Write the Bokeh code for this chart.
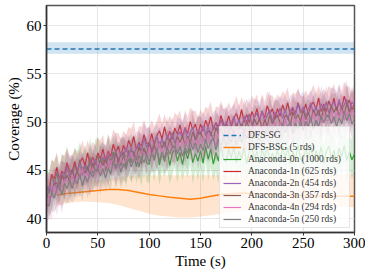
from bokeh.plotting import figure
from bokeh.models import Range1d, Legend, LegendItem, FixedTicker
from bokeh.embed import file_html
from bokeh.resources import INLINE

# ---------------- data ----------------
x_ticks = [0, 50, 100, 150, 200, 250, 300]
y_ticks = [40, 45, 50, 55, 60]

# Anaconda runs sampled every 2.5 s
t_ana = [i * 2.5 for i in range(121)]

sg_t = [0, 300]
sg_mean = [57.6, 57.6]
sg_lo = [57.1, 57.1]
sg_hi = [58.3, 58.3]

bsg_t = [10, 20, 30, 40, 50, 60, 70, 80, 90, 100, 110, 120, 130, 140, 150,
         160, 170, 180, 190, 200, 210, 220, 230, 240, 250, 260, 270, 280, 290, 300]
bsg_mean = [42.45, 42.6, 42.7, 42.8, 42.9, 43.0, 43.0, 42.9, 42.7, 42.5, 42.35, 42.2, 42.1, 42.0, 42.1,
            42.3, 42.5, 42.6, 42.65, 42.6, 42.55, 42.5, 42.45, 42.4, 42.4, 42.35, 42.3, 42.3, 42.3, 42.3]
bsg_lo = [41.3, 41.6, 41.75, 41.75, 41.7, 41.6, 41.4, 41.1, 40.8, 40.5, 40.3, 40.2, 40.1, 40.1, 40.2,
          40.35, 40.5, 40.65, 40.8, 40.9, 41.0, 41.05, 41.1, 41.1, 41.15, 41.2, 41.2, 41.2, 41.2, 41.2]
bsg_hi = [43.6, 43.7, 43.8, 43.9, 44.0, 44.1, 44.3, 44.4, 44.5, 44.5, 44.5, 44.5, 44.5, 44.5, 44.5,
          44.5, 44.5, 44.5, 44.55, 44.55, 44.55, 44.55, 44.6, 44.6, 44.6, 44.6, 44.6, 44.6, 44.6, 44.6]

a0_mean = [43.5, 42.6, 44.6, 43.5, 44.8, 43.4, 44.75, 44.0, 45.7, 44.3,
           44.2, 45.6, 44.8, 46.1, 44.5, 45.8, 45.0, 46.35, 44.7, 46.0,
           46.55, 45.3, 46.25, 45.0, 46.55, 45.7, 46.9, 45.35, 46.3, 45.5,
           46.65, 45.35, 47.1, 45.8, 46.9, 45.35, 46.55, 45.65, 47.3, 45.8,
           45.6, 46.9, 46.05, 47.25, 45.55, 46.8, 45.9, 47.2, 45.5, 46.75,
           47.25, 45.95, 46.85, 45.6, 47.1, 46.2, 47.4, 45.8, 46.75, 45.95,
           47.05, 45.75, 47.45, 46.15, 47.25, 45.65, 46.85, 45.95, 47.6, 46.1,
           45.9, 47.2, 46.3, 47.5, 45.8, 47.0, 46.1, 47.4, 45.7, 46.9,
           47.4, 46.1, 47.0, 45.7, 47.2, 46.3, 47.5, 45.9, 46.8, 46.0,
           47.15, 45.85, 47.55, 46.25, 47.35, 45.75, 46.95, 46.05, 47.65, 46.15,
           45.95, 47.25, 46.35, 47.55, 45.85, 47.05, 46.15, 47.45, 45.75, 46.95,
           47.5, 46.2, 47.1, 45.8, 47.3, 46.4, 47.6, 46.0, 46.9, 46.1,
           46.7]
a0_sd = [1.8, 2.1, 1.6, 2.2, 1.9, 1.7, 2.0, 2.3, 1.8, 1.9,
         2.0, 1.7, 2.2, 1.8, 2.1, 1.9, 1.6, 2.1, 1.9, 2.2,
         1.9, 2.2, 1.8, 1.6, 2.1, 2.0, 1.8, 2.2, 1.7, 2.0,
         1.8, 2.1, 1.6, 2.2, 1.9, 1.7, 2.0, 2.3, 1.8, 1.9,
         2.0, 1.7, 2.2, 1.8, 2.1, 1.9, 1.6, 2.1, 1.9, 2.2,
         1.9, 2.2, 1.8, 1.6, 2.1, 2.0, 1.8, 2.2, 1.7, 2.0,
         1.8, 2.1, 1.6, 2.2, 1.9, 1.7, 2.0, 2.3, 1.8, 1.9,
         2.0, 1.7, 2.2, 1.8, 2.1, 1.9, 1.6, 2.1, 1.9, 2.2,
         1.9, 2.2, 1.8, 1.6, 2.1, 2.0, 1.8, 2.2, 1.7, 2.0,
         1.8, 2.1, 1.6, 2.2, 1.9, 1.7, 2.0, 2.3, 1.8, 1.9,
         2.0, 1.7, 2.2, 1.8, 2.1, 1.9, 1.6, 2.1, 1.9, 2.2,
         1.9, 2.2, 1.8, 1.6, 2.1, 2.0, 1.8, 2.2, 1.7, 2.0,
         1.9]

a1_mean = [43.1, 43.0, 44.6, 44.1, 45.3, 44.1, 44.9, 44.6, 45.8, 44.9,
           44.9, 45.9, 44.8, 45.8, 46.3, 45.5, 46.8, 45.5, 46.4, 45.6,
           46.8, 46.2, 47.2, 46.0, 47.0, 46.4, 47.7, 46.9, 47.5, 46.5,
           47.6, 46.9, 48.1, 47.4, 48.5, 47.15, 47.9, 47.5, 48.7, 47.8,
           47.8, 48.8, 47.65, 48.6, 49.1, 48.25, 49.5, 48.2, 49.05, 48.2,
           49.4, 48.75, 49.7, 48.5, 49.45, 48.8, 50.05, 49.2, 49.8, 48.75,
           49.8, 49.05, 50.2, 49.5, 50.55, 49.2, 49.95, 49.5, 50.7, 49.75,
           49.7, 50.65, 49.5, 50.45, 50.9, 50.05, 51.3, 49.95, 50.8, 49.95,
           51.1, 50.45, 51.4, 50.15, 51.1, 50.45, 51.7, 50.85, 51.4, 50.35,
           51.4, 50.6, 51.8, 51.0, 52.0, 50.7, 51.4, 50.9, 52.0, 51.1,
           51.0, 51.9, 50.8, 51.7, 52.1, 51.3, 52.5, 51.1, 51.9, 51.1,
           52.2, 51.5, 52.5, 51.2, 52.1, 51.5, 52.7, 51.8, 52.3, 51.3,
           52.0]
a1_sd = [1.5, 1.8, 1.4, 1.9, 1.6, 1.3, 1.7, 2.0, 1.5, 1.6,
         1.7, 1.4, 1.9, 1.5, 1.8, 1.6, 1.3, 1.8, 1.6, 1.9,
         1.6, 1.9, 1.5, 1.3, 1.8, 1.7, 1.5, 1.9, 1.4, 1.7,
         1.5, 1.8, 1.4, 1.9, 1.6, 1.3, 1.7, 2.0, 1.5, 1.6,
         1.7, 1.4, 1.9, 1.5, 1.8, 1.6, 1.3, 1.8, 1.6, 1.9,
         1.6, 1.9, 1.5, 1.3, 1.8, 1.7, 1.5, 1.9, 1.4, 1.7,
         1.5, 1.8, 1.4, 1.9, 1.6, 1.3, 1.7, 2.0, 1.5, 1.6,
         1.7, 1.4, 1.9, 1.5, 1.8, 1.6, 1.3, 1.8, 1.6, 1.9,
         1.6, 1.9, 1.5, 1.3, 1.8, 1.7, 1.5, 1.9, 1.4, 1.7,
         1.5, 1.8, 1.4, 1.9, 1.6, 1.3, 1.7, 2.0, 1.5, 1.6,
         1.7, 1.4, 1.9, 1.5, 1.8, 1.6, 1.3, 1.8, 1.6, 1.9,
         1.6, 1.9, 1.5, 1.3, 1.8, 1.7, 1.5, 1.9, 1.4, 1.7,
         1.6]

a2_mean = [41.9, 43.4, 42.7, 43.9, 43.1, 44.2, 44.7, 43.95, 45.3, 44.4,
           45.1, 44.2, 45.0, 45.7, 44.6, 45.5, 44.5, 45.9, 45.3, 46.2,
           45.1, 46.0, 46.4, 45.7, 46.8, 45.7, 46.4, 47.0, 45.8, 46.9,
           46.4, 47.4, 46.4, 47.4, 46.4, 47.4, 47.8, 47.0, 48.3, 47.35,
           48.0, 47.1, 47.9, 48.55, 47.4, 48.3, 47.3, 48.65, 48.0, 48.9,
           47.8, 48.65, 49.0, 48.3, 49.35, 48.2, 48.9, 49.45, 48.2, 49.25,
           48.7, 49.65, 48.6, 49.6, 48.55, 49.5, 49.9, 49.05, 50.3, 49.4,
           50.1, 49.15, 49.9, 50.6, 49.45, 50.3, 49.25, 50.6, 50.0, 50.85,
           49.7, 50.55, 50.9, 50.15, 51.2, 50.05, 50.7, 51.25, 50.0, 51.05,
           50.5, 51.45, 50.4, 51.3, 50.25, 51.2, 51.55, 50.7, 51.9, 50.95,
           51.6, 50.6, 51.35, 52.0, 50.8, 51.65, 50.6, 51.9, 51.25, 52.1,
           50.9, 51.75, 52.1, 51.3, 52.35, 51.2, 51.8, 52.35, 51.1, 52.1,
           51.8]
a2_sd = [1.7, 1.4, 1.9, 1.5, 1.8, 1.6, 1.3, 1.8, 1.6, 1.9,
         1.6, 1.9, 1.5, 1.3, 1.8, 1.7, 1.5, 1.9, 1.4, 1.7,
         1.5, 1.8, 1.4, 1.9, 1.6, 1.3, 1.7, 2.0, 1.5, 1.6,
         1.7, 1.4, 1.9, 1.5, 1.8, 1.6, 1.3, 1.8, 1.6, 1.9,
         1.6, 1.9, 1.5, 1.3, 1.8, 1.7, 1.5, 1.9, 1.4, 1.7,
         1.5, 1.8, 1.4, 1.9, 1.6, 1.3, 1.7, 2.0, 1.5, 1.6,
         1.7, 1.4, 1.9, 1.5, 1.8, 1.6, 1.3, 1.8, 1.6, 1.9,
         1.6, 1.9, 1.5, 1.3, 1.8, 1.7, 1.5, 1.9, 1.4, 1.7,
         1.5, 1.8, 1.4, 1.9, 1.6, 1.3, 1.7, 2.0, 1.5, 1.6,
         1.7, 1.4, 1.9, 1.5, 1.8, 1.6, 1.3, 1.8, 1.6, 1.9,
         1.6, 1.9, 1.5, 1.3, 1.8, 1.7, 1.5, 1.9, 1.4, 1.7,
         1.5, 1.8, 1.4, 1.9, 1.6, 1.3, 1.7, 2.0, 1.5, 1.6,
         1.5]

a3_mean = [42.5, 42.2, 42.3, 43.6, 43.7, 43.0, 44.5, 43.85, 44.5, 43.8,
           45.1, 44.1, 44.9, 44.1, 45.3, 44.7, 45.4, 44.4, 45.8, 45.0,
           44.9, 46.1, 45.5, 46.2, 45.2, 46.2, 45.6, 46.8, 45.9, 46.5,
           46.9, 46.2, 45.95, 47.0, 46.9, 46.1, 47.45, 46.7, 47.3, 46.6,
           47.9, 46.85, 47.6, 46.8, 47.95, 47.3, 48.0, 46.95, 48.3, 47.5,
           47.35, 48.5, 47.9, 48.55, 47.5, 48.5, 47.85, 49.0, 48.1, 48.65,
           49.0, 48.25, 48.0, 49.1, 48.95, 48.1, 49.45, 48.7, 49.3, 48.55,
           49.8, 48.75, 49.5, 48.7, 49.85, 49.2, 49.85, 48.8, 50.15, 49.3,
           49.2, 50.35, 49.7, 50.35, 49.3, 50.25, 49.6, 50.75, 49.8, 50.35,
           50.7, 49.95, 49.7, 50.7, 50.55, 49.7, 51.05, 50.3, 50.8, 50.05,
           51.3, 50.25, 51.0, 50.15, 51.3, 50.6, 51.25, 50.2, 51.55, 50.7,
           50.5, 51.65, 51.0, 51.6, 50.55, 51.5, 50.8, 51.95, 51.0, 51.5,
           51.3]
a3_sd = [1.6, 1.9, 1.5, 1.3, 1.8, 1.7, 1.5, 1.9, 1.4, 1.7,
         1.5, 1.8, 1.4, 1.9, 1.6, 1.3, 1.7, 2.0, 1.5, 1.6,
         1.7, 1.4, 1.9, 1.5, 1.8, 1.6, 1.3, 1.8, 1.6, 1.9,
         1.6, 1.9, 1.5, 1.3, 1.8, 1.7, 1.5, 1.9, 1.4, 1.7,
         1.5, 1.8, 1.4, 1.9, 1.6, 1.3, 1.7, 2.0, 1.5, 1.6,
         1.7, 1.4, 1.9, 1.5, 1.8, 1.6, 1.3, 1.8, 1.6, 1.9,
         1.6, 1.9, 1.5, 1.3, 1.8, 1.7, 1.5, 1.9, 1.4, 1.7,
         1.5, 1.8, 1.4, 1.9, 1.6, 1.3, 1.7, 2.0, 1.5, 1.6,
         1.7, 1.4, 1.9, 1.5, 1.8, 1.6, 1.3, 1.8, 1.6, 1.9,
         1.6, 1.9, 1.5, 1.3, 1.8, 1.7, 1.5, 1.9, 1.4, 1.7,
         1.5, 1.8, 1.4, 1.9, 1.6, 1.3, 1.7, 2.0, 1.5, 1.6,
         1.7, 1.4, 1.9, 1.5, 1.8, 1.6, 1.3, 1.8, 1.6, 1.9,
         1.6]

a4_mean = [40.9, 42.4, 42.2, 43.4, 42.5, 43.5, 42.6, 44.05, 43.9, 43.45,
           44.6, 43.6, 44.5, 44.1, 45.2, 43.9, 44.8, 44.3, 45.3, 44.6,
           44.7, 45.8, 44.6, 45.7, 45.3, 46.1, 45.1, 46.0, 45.1, 46.35,
           45.3, 46.4, 45.9, 46.9, 45.8, 46.65, 45.6, 47.0, 46.8, 46.3,
           47.4, 46.35, 47.2, 46.8, 47.85, 46.5, 47.4, 46.85, 47.8, 47.1,
           47.15, 48.2, 47.0, 48.05, 47.6, 48.35, 47.3, 48.15, 47.2, 48.45,
           47.4, 48.45, 47.9, 48.85, 47.7, 48.55, 47.5, 48.85, 48.6, 48.05,
           49.1, 48.05, 48.9, 48.45, 49.5, 48.15, 49.0, 48.45, 49.4, 48.65,
           48.7, 49.75, 48.5, 49.55, 49.1, 49.85, 48.8, 49.65, 48.7, 49.95,
           48.9, 49.95, 49.4, 50.35, 49.2, 50.05, 49.0, 50.35, 50.1, 49.55,
           50.6, 49.55, 50.4, 49.95, 51.0, 49.65, 50.5, 49.95, 50.9, 50.15,
           50.2, 51.25, 50.0, 51.0, 50.55, 51.3, 50.2, 51.05, 50.1, 51.3,
           50.8]
a4_sd = [2.3, 2.0, 2.4, 1.9, 2.2, 2.0, 2.1, 1.8, 2.0, 1.9,
         1.5, 1.8, 1.4, 1.9, 1.6, 1.3, 1.7, 2.0, 1.5, 1.6,
         1.7, 1.4, 1.9, 1.5, 1.8, 1.6, 1.3, 1.8, 1.6, 1.9,
         1.6, 1.9, 1.5, 1.3, 1.8, 1.7, 1.5, 1.9, 1.4, 1.7,
         1.5, 1.8, 1.4, 1.9, 1.6, 1.3, 1.7, 2.0, 1.5, 1.6,
         1.7, 1.4, 1.9, 1.5, 1.8, 1.6, 1.3, 1.8, 1.6, 1.9,
         1.6, 1.9, 1.5, 1.3, 1.8, 1.7, 1.5, 1.9, 1.4, 1.7,
         1.5, 1.8, 1.4, 1.9, 1.6, 1.3, 1.7, 2.0, 1.5, 1.6,
         1.7, 1.4, 1.9, 1.5, 1.8, 1.6, 1.3, 1.8, 1.6, 1.9,
         1.6, 1.9, 1.5, 1.3, 1.8, 1.7, 1.5, 1.9, 1.4, 1.7,
         1.5, 1.8, 1.4, 1.9, 1.6, 1.3, 1.7, 2.0, 1.5, 1.6,
         1.7, 1.4, 1.9, 1.5, 1.8, 1.6, 1.3, 1.8, 1.6, 1.9,
         1.7]

a5_mean = [41.5, 41.3, 42.8, 42.1, 43.0, 43.5, 42.4, 43.65, 43.1, 44.0,
           43.1, 44.1, 43.6, 44.6, 43.4, 44.4, 43.8, 44.9, 44.3, 45.0,
           45.2, 44.4, 45.2, 44.2, 45.2, 44.6, 45.9, 45.1, 45.85, 44.8,
           45.7, 45.1, 46.3, 45.35, 46.1, 46.5, 45.3, 46.45, 45.8, 46.7,
           45.8, 46.75, 46.2, 47.2, 45.95, 46.9, 46.3, 47.35, 46.7, 47.4,
           47.55, 46.7, 47.5, 46.45, 47.4, 46.75, 48.0, 47.15, 47.9, 46.85,
           47.7, 47.05, 48.2, 47.25, 48.0, 48.35, 47.1, 48.25, 47.6, 48.45,
           47.5, 48.45, 47.9, 48.85, 47.6, 48.55, 47.9, 48.95, 48.3, 48.95,
           49.1, 48.25, 49.0, 48.0, 48.95, 48.3, 49.6, 48.75, 49.5, 48.5,
           49.35, 48.7, 49.85, 48.9, 49.65, 50.0, 48.75, 49.9, 49.25, 50.1,
           49.15, 50.1, 49.55, 50.5, 49.25, 50.2, 49.55, 50.6, 49.95, 50.6,
           50.7, 49.85, 50.6, 49.5, 50.45, 49.8, 51.0, 50.15, 50.9, 49.8,
           50.3]
a5_sd = [1.7, 1.4, 1.9, 1.5, 1.8, 1.6, 1.3, 1.8, 1.6, 1.9,
         1.5, 1.8, 1.4, 1.9, 1.6, 1.3, 1.7, 2.0, 1.5, 1.6,
         1.6, 1.9, 1.5, 1.3, 1.8, 1.7, 1.5, 1.9, 1.4, 1.7,
         1.7, 1.4, 1.9, 1.5, 1.8, 1.6, 1.3, 1.8, 1.6, 1.9,
         1.5, 1.8, 1.4, 1.9, 1.6, 1.3, 1.7, 2.0, 1.5, 1.6,
         1.6, 1.9, 1.5, 1.3, 1.8, 1.7, 1.5, 1.9, 1.4, 1.7,
         1.7, 1.4, 1.9, 1.5, 1.8, 1.6, 1.3, 1.8, 1.6, 1.9,
         1.5, 1.8, 1.4, 1.9, 1.6, 1.3, 1.7, 2.0, 1.5, 1.6,
         1.6, 1.9, 1.5, 1.3, 1.8, 1.7, 1.5, 1.9, 1.4, 1.7,
         1.7, 1.4, 1.9, 1.5, 1.8, 1.6, 1.3, 1.8, 1.6, 1.9,
         1.5, 1.8, 1.4, 1.9, 1.6, 1.3, 1.7, 2.0, 1.5, 1.6,
         1.6, 1.9, 1.5, 1.3, 1.8, 1.7, 1.5, 1.9, 1.4, 1.7,
         1.7]

ana_labels = ["Anaconda-0n (1000 rds)", "Anaconda-1n (625 rds)", "Anaconda-2n (454 rds)",
              "Anaconda-3n (357 rds)", "Anaconda-4n (294 rds)", "Anaconda-5n (250 rds)"]
ana_colors = ["#2ca02c", "#d62728", "#9467bd", "#8c564b", "#e377c2", "#7f7f7f"]
ana_means = [a0_mean, a1_mean, a2_mean, a3_mean, a4_mean, a5_mean]
ana_sds = [a0_sd, a1_sd, a2_sd, a3_sd, a4_sd, a5_sd]

FONT = "Liberation Serif"

# ---------------- figure ----------------
p = figure(width=365, height=278, x_range=Range1d(0, 300), y_range=Range1d(38.55, 62.1),
           output_backend="svg", toolbar_location=None,
           min_border_left=46, min_border_right=11, min_border_top=5, min_border_bottom=46)

items = []

p.varea(x=sg_t, y1=sg_lo, y2=sg_hi, fill_color="#1f77b4", fill_alpha=0.2)
r_sg = p.line(sg_t, sg_mean, line_color="#1f77b4", line_width=1.5, line_dash="5 3")
items.append(LegendItem(label="DFS-SG", renderers=[r_sg]))

p.varea(x=bsg_t, y1=bsg_lo, y2=bsg_hi, fill_color="#ff7f0e", fill_alpha=0.2)
r_bsg = p.line(bsg_t, bsg_mean, line_color="#ff7f0e", line_width=1.5)
items.append(LegendItem(label="DFS-BSG (5 rds)", renderers=[r_bsg]))

for lab, col, m, sd in zip(ana_labels, ana_colors, ana_means, ana_sds):
    lo = [a - b for a, b in zip(m, sd)]
    hi = [a + b for a, b in zip(m, sd)]
    p.varea(x=t_ana, y1=lo, y2=hi, fill_color=col, fill_alpha=0.2)
    r = p.line(t_ana, m, line_color=col, line_width=1.2)
    items.append(LegendItem(label=lab, renderers=[r]))

p.xaxis.ticker = FixedTicker(ticks=x_ticks)
p.yaxis.ticker = FixedTicker(ticks=y_ticks)
p.xaxis.axis_label = "Time (s)"
p.yaxis.axis_label = "Coverage (%)"
for ax in [p.xaxis[0], p.yaxis[0]]:
    ax.axis_label_text_font = FONT
    ax.axis_label_text_font_style = "normal"
    ax.axis_label_text_font_size = "15px"
    ax.axis_label_text_color = "#000000"
    ax.major_label_text_font = FONT
    ax.major_label_text_font_size = "15px"
    ax.major_label_text_color = "#000000"
    ax.axis_line_color = "#333333"
    ax.axis_line_width = 1.5
    ax.major_tick_line_color = "#333333"
    ax.major_tick_out = 3
    ax.major_tick_in = 0
    ax.minor_tick_line_color = None
    ax.major_label_standoff = 2
    ax.axis_label_standoff = 2

p.xgrid.grid_line_color = "#e6e6e6"
p.ygrid.grid_line_color = "#e6e6e6"
p.outline_line_color = "#555555"
p.outline_line_width = 1.5

legend = Legend(items=items, location="bottom_right")
legend.label_text_font = FONT
legend.label_text_font_size = "9.5px"
legend.label_text_color = "#333333"
legend.glyph_width = 18
legend.glyph_height = 10
legend.label_height = 10
legend.label_width = 98
legend.label_standoff = 7
legend.padding = 3
legend.spacing = 2
legend.margin = 4
legend.border_line_color = "#cccccc"
legend.border_line_width = 1
legend.background_fill_color = "#ffffff"
legend.background_fill_alpha = 0.8
p.add_layout(legend)

open("out.html", "w").write(file_html(p, INLINE))
